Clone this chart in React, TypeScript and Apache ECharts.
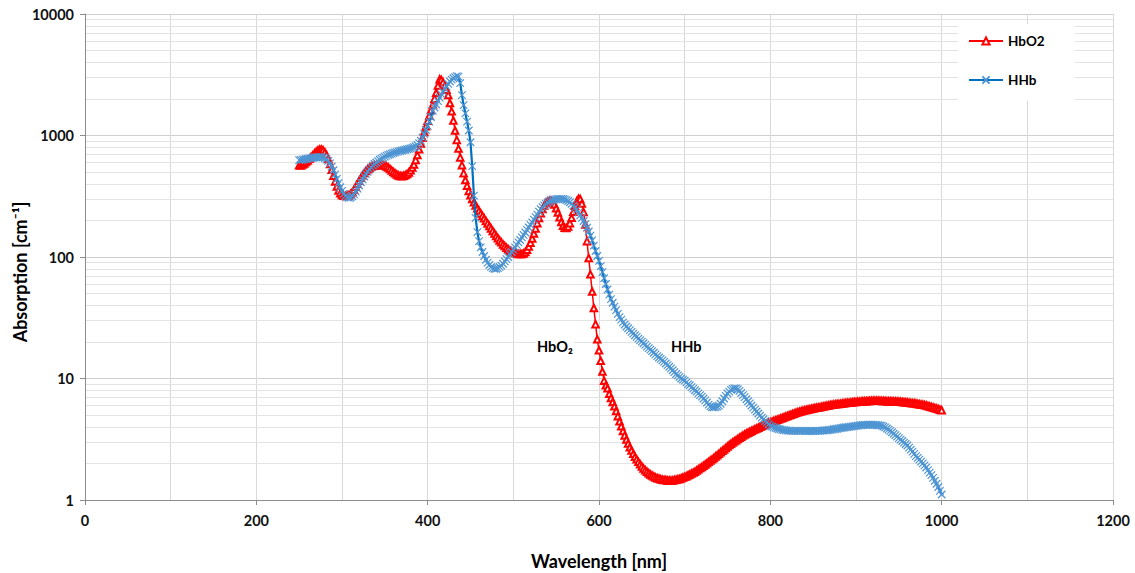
import React, { useEffect, useRef } from "react";
import * as echarts from "echarts";

// Wavelength grid: 250 .. 1000 nm in 2 nm steps
const wavelengths: number[] = Array.from({ length: 376 }, (_, i) => 250 + 2 * i);

// HbO2 absorption [cm^-1]
const hbo2: number[] = [
  570, 566, 577, 588, 605, 623, 644, 666, 689, 713,
  734, 755, 768, 768, 755, 728, 690, 640, 582, 522,
  466, 418, 380, 352, 334, 324, 319, 318, 319, 322,
  330, 342, 358, 378, 400, 424, 448, 471, 492, 511,
  527, 541, 552, 560, 566, 570, 573, 575, 575, 572,
  566, 557, 545, 531, 516, 501, 488, 477, 469, 464,
  463, 466, 472, 482, 497, 518, 545, 577, 630, 690,
  770, 860, 960, 1070, 1190, 1320, 1460, 1620, 1800, 2010,
  2250, 2580, 2900, 2870, 2740, 2560, 2380, 2150, 1850, 1580,
  1330, 1100, 920, 780, 660, 570, 490, 430, 385, 350,
  322, 300, 282, 266, 252, 240, 228, 218, 208, 198,
  189, 180, 172, 164, 156, 149, 143, 137, 132, 127,
  123, 119, 116, 113, 111, 110, 108, 107, 106, 106,
  106, 107, 110, 115, 122, 131, 142, 156, 172, 190,
  209, 229, 248, 265, 278, 287, 291, 290, 283, 270,
  252, 232, 212, 194, 181, 174, 173, 178, 190, 210,
  236, 264, 288, 302, 300, 275, 235, 185, 135, 98,
  72, 52, 38, 28, 21, 17.1, 14.0, 11.4, 9.6, 8.8,
  8.3, 7.5, 6.9, 6.4, 5.9, 5.4, 4.9, 4.45, 4.05, 3.7,
  3.4, 3.15, 2.92, 2.72, 2.55, 2.4, 2.27, 2.16, 2.06, 1.97,
  1.89, 1.82, 1.76, 1.71, 1.66, 1.62, 1.59, 1.56, 1.53, 1.51,
  1.5, 1.48, 1.47, 1.46, 1.46, 1.45, 1.45, 1.45, 1.45, 1.46,
  1.47, 1.48, 1.49, 1.51, 1.53, 1.55, 1.57, 1.6, 1.62, 1.65,
  1.68, 1.71, 1.75, 1.79, 1.83, 1.87, 1.91, 1.96, 2.01, 2.06,
  2.11, 2.16, 2.22, 2.28, 2.34, 2.4, 2.47, 2.54, 2.61, 2.68,
  2.76, 2.83, 2.9, 2.97, 3.04, 3.11, 3.18, 3.25, 3.32, 3.39,
  3.46, 3.52, 3.58, 3.64, 3.7, 3.76, 3.82, 3.88, 3.94, 4.0,
  4.06, 4.12, 4.18, 4.24, 4.3, 4.36, 4.41, 4.47, 4.52, 4.58,
  4.63, 4.69, 4.74, 4.8, 4.86, 4.92, 4.98, 5.04, 5.1, 5.16,
  5.22, 5.27, 5.32, 5.37, 5.42, 5.47, 5.51, 5.55, 5.59, 5.63,
  5.67, 5.71, 5.74, 5.78, 5.81, 5.85, 5.89, 5.93, 5.96, 6.0,
  6.04, 6.07, 6.1, 6.13, 6.16, 6.18, 6.21, 6.24, 6.26, 6.29,
  6.31, 6.33, 6.35, 6.38, 6.4, 6.42, 6.44, 6.45, 6.47, 6.49,
  6.5, 6.51, 6.53, 6.54, 6.55, 6.56, 6.56, 6.56, 6.55, 6.55,
  6.54, 6.53, 6.52, 6.51, 6.51, 6.5, 6.49, 6.48, 6.47, 6.46,
  6.45, 6.43, 6.41, 6.39, 6.37, 6.35, 6.32, 6.3, 6.27, 6.25,
  6.22, 6.18, 6.15, 6.11, 6.08, 6.04, 5.99, 5.94, 5.88, 5.83,
  5.78, 5.72, 5.66, 5.6, 5.54, 5.48,
];

// HHb absorption [cm^-1]
const hhb: number[] = [
  627, 630, 633, 636, 640, 644, 648, 652, 656, 659,
  662, 664, 665, 664, 660, 652, 638, 618, 590, 556,
  518, 478, 440, 405, 375, 350, 331, 318, 310, 307,
  309, 316, 328, 345, 365, 388, 412, 436, 460, 483,
  505, 526, 546, 565, 583, 600, 616, 631, 645, 658,
  670, 682, 692, 701, 710, 718, 726, 733, 740, 746,
  752, 758, 764, 770, 776, 782, 790, 800, 815, 835,
  865, 905, 960, 1030, 1110, 1200, 1300, 1420, 1600, 1700,
  1800, 1920, 2050, 2180, 2300, 2420, 2540, 2660, 2780, 2880,
  2960, 3020, 3080, 3050, 2700, 2150, 1780, 1520, 1300, 1100,
  880, 560, 320, 210, 160, 135, 120, 110, 102, 95,
  90, 86, 83, 81, 80, 80, 81, 83, 85, 88,
  92, 96, 100, 105, 110, 115, 120, 126, 132, 138,
  145, 152, 159, 167, 175, 184, 193, 203, 213, 223,
  236, 247, 257, 266, 274, 281, 287, 291, 295, 297,
  299, 300, 301, 301, 300, 298, 294, 289, 282, 274,
  265, 255, 244, 232, 220, 210, 198, 186, 174, 162,
  150, 137, 124, 112, 102, 93, 84, 75, 67, 60,
  54, 49, 45, 42, 39, 36.5, 34, 32, 30.5, 29,
  27.8, 26.8, 25.9, 25.0, 24.2, 23.4, 22.7, 22.0, 21.3, 20.7,
  20.1, 19.5, 18.9, 18.3, 17.8, 17.3, 16.8, 16.3, 15.8, 15.3,
  14.9, 14.5, 14.1, 13.7, 13.3, 12.9, 12.5, 12.1, 11.7, 11.3,
  10.9, 10.6, 10.3, 10.0, 9.8, 9.6, 9.3, 9.0, 8.8, 8.5,
  8.25, 8.0, 7.8, 7.55, 7.3, 7.1, 6.85, 6.6, 6.35, 6.1,
  5.9, 5.8, 5.8, 5.82, 5.88, 5.98, 6.2, 6.5, 6.85, 7.2,
  7.53, 7.8, 8.05, 8.22, 8.3, 8.29, 8.15, 7.9, 7.6, 7.3,
  7.03, 6.75, 6.5, 6.25, 6.0, 5.76, 5.55, 5.35, 5.15, 4.95,
  4.77, 4.62, 4.48, 4.35, 4.2, 4.08, 4.02, 3.96, 3.92, 3.88,
  3.84, 3.81, 3.78, 3.76, 3.74, 3.72, 3.72, 3.71, 3.71, 3.71,
  3.71, 3.71, 3.71, 3.71, 3.71, 3.71, 3.7, 3.7, 3.7, 3.7,
  3.7, 3.7, 3.71, 3.71, 3.71, 3.72, 3.73, 3.74, 3.75, 3.77,
  3.78, 3.8, 3.82, 3.84, 3.86, 3.89, 3.91, 3.93, 3.95, 3.97,
  3.98, 4.0, 4.02, 4.04, 4.06, 4.08, 4.09, 4.11, 4.12, 4.14,
  4.15, 4.15, 4.16, 4.16, 4.16, 4.16, 4.15, 4.14, 4.12, 4.11,
  4.09, 4.03, 3.96, 3.88, 3.8, 3.71, 3.61, 3.51, 3.42, 3.32,
  3.23, 3.14, 3.06, 2.97, 2.89, 2.81, 2.7, 2.6, 2.5, 2.4,
  2.3, 2.22, 2.15, 2.07, 2.0, 1.93, 1.85, 1.76, 1.68, 1.6,
  1.52, 1.44, 1.36, 1.28, 1.19, 1.11,
];

// Minor (log) grid line values on the y axis
const minorGridY: number[] = [
  2, 3, 4, 5, 6, 7, 8, 9,
  20, 30, 40, 50, 60, 70, 80, 90,
  200, 300, 400, 500, 600, 700, 800, 900,
  2000, 3000, 4000, 5000, 6000, 7000, 8000, 9000,
];

const seriesNames = ["HbO2", "HHb"];
const FONT = "Lato, 'Noto Sans', sans-serif";
const RED = "#ff0000";
const BLUE = "#0070c0";
const CROSS = "path://M0,0L10,10M10,0L0,10";

export default function App() {
  const ref = useRef<HTMLDivElement>(null);

  useEffect(() => {
    if (!ref.current) return;
    const chart = echarts.init(ref.current, undefined, { renderer: "svg" });
    const hbo2Data = wavelengths.map((w, i) => [w, hbo2[i]]);
    const hhbData = wavelengths.map((w, i) => [w, hhb[i]]);

    chart.setOption({
      animation: false,
      backgroundColor: "#ffffff",
      grid: {
        left: 85,
        right: 22,
        top: 14,
        bottom: 73,
        containLabel: false,
        outerBoundsMode: "none",
      },
      legend: {
        data: seriesNames,
        orient: "vertical",
        left: 958,
        top: 24,
        z: 100,
        itemGap: 25,
        itemWidth: 34,
        itemHeight: 9,
        padding: [10, 30, 14, 10],
        backgroundColor: "#ffffff",
        textStyle: { fontFamily: FONT, fontSize: 13.5, fontWeight: "bold", color: "#000" },
      },
      xAxis: {
        type: "value",
        min: 0,
        max: 1200,
        interval: 200,
        name: "Wavelength [nm]",
        nameLocation: "middle",
        nameGap: 52,
        nameTextStyle: { fontFamily: FONT, fontSize: 18, fontWeight: "bold", color: "#000" },
        axisLine: { show: true, lineStyle: { color: "#8c8c8c", width: 1 } },
        axisTick: { show: true, length: 5, lineStyle: { color: "#8c8c8c" } },
        axisLabel: {
          fontFamily: FONT,
          fontSize: 14.5,
          fontWeight: "bold",
          color: "#111",
          margin: 13,
          formatter: (v: number) => String(v),
        },
        splitLine: { show: true, lineStyle: { color: "#d9d9d9", width: 1 } },
        minorTick: { show: false, splitNumber: 2 },
        minorSplitLine: { show: true, lineStyle: { color: "#d9d9d9", width: 1 } },
      },
      yAxis: {
        type: "log",
        logBase: 10,
        min: 1,
        max: 10000,
        axisLine: { show: true, lineStyle: { color: "#8c8c8c", width: 1 } },
        axisTick: { show: true, length: 5, lineStyle: { color: "#8c8c8c" } },
        axisLabel: {
          fontFamily: FONT,
          fontSize: 14.5,
          fontWeight: "bold",
          color: "#111",
          margin: 11,
          formatter: (v: number) => String(Math.round(v)),
        },
        splitLine: { show: true, lineStyle: { color: "#cfcfcf", width: 1 } },
      },
      graphic: [
        {
          type: "text",
          x: 20,
          y: 272,
          rotation: Math.PI / 2,
          z: 50,
          style: {
            text: "Absorption [cm⁻¹]",
            fontFamily: FONT,
            fontSize: 18,
            fontWeight: "bold",
            fill: "#000",
            align: "center",
            verticalAlign: "middle",
          },
        },
        {
          type: "text",
          left: 536,
          top: 338,
          z: 50,
          style: {
            text: "HbO₂",
            fontFamily: FONT,
            fontSize: 14.5,
            fontWeight: "bold",
            fill: "#000",
            backgroundColor: "#fff",
            padding: [1, 1],
          },
        },
        {
          type: "text",
          left: 670,
          top: 338,
          z: 50,
          style: {
            text: "HHb",
            fontFamily: FONT,
            fontSize: 14.5,
            fontWeight: "bold",
            fill: "#000",
            backgroundColor: "#fff",
            padding: [1, 1],
          },
        },
      ],
      series: [
        {
          name: "grid",
          type: "line",
          data: [[0, 1]],
          symbol: "none",
          silent: true,
          z: 0,
          lineStyle: { opacity: 0 },
          markLine: {
            silent: true,
            z: 0,
            symbol: ["none", "none"],
            label: { show: false },
            lineStyle: { color: "#e3e3e3", width: 1, type: "solid" },
            data: minorGridY.map((v) => ({ yAxis: v })),
          },
        },
        {
          name: seriesNames[0],
          type: "line",
          data: hbo2Data,
          symbol: "emptyTriangle",
          symbolSize: 6.5,
          showAllSymbol: true,
          z: 3,
          lineStyle: { color: RED, width: 1.5 },
          itemStyle: { color: RED, borderColor: RED, borderWidth: 1 },
        },
        {
          name: seriesNames[1],
          type: "line",
          data: hhbData,
          symbol: CROSS,
          symbolSize: 7.5,
          showAllSymbol: true,
          z: 4,
          lineStyle: { color: BLUE, width: 2.2 },
          itemStyle: { color: "none", borderColor: "#4f95d3", borderWidth: 1.2 },
        },
      ],
    });

    return () => chart.dispose();
  }, []);

  return (
    <div
      ref={ref}
      style={{ position: "fixed", left: 0, top: 0, width: 1135, height: 573, background: "#fff" }}
    />
  );
}
